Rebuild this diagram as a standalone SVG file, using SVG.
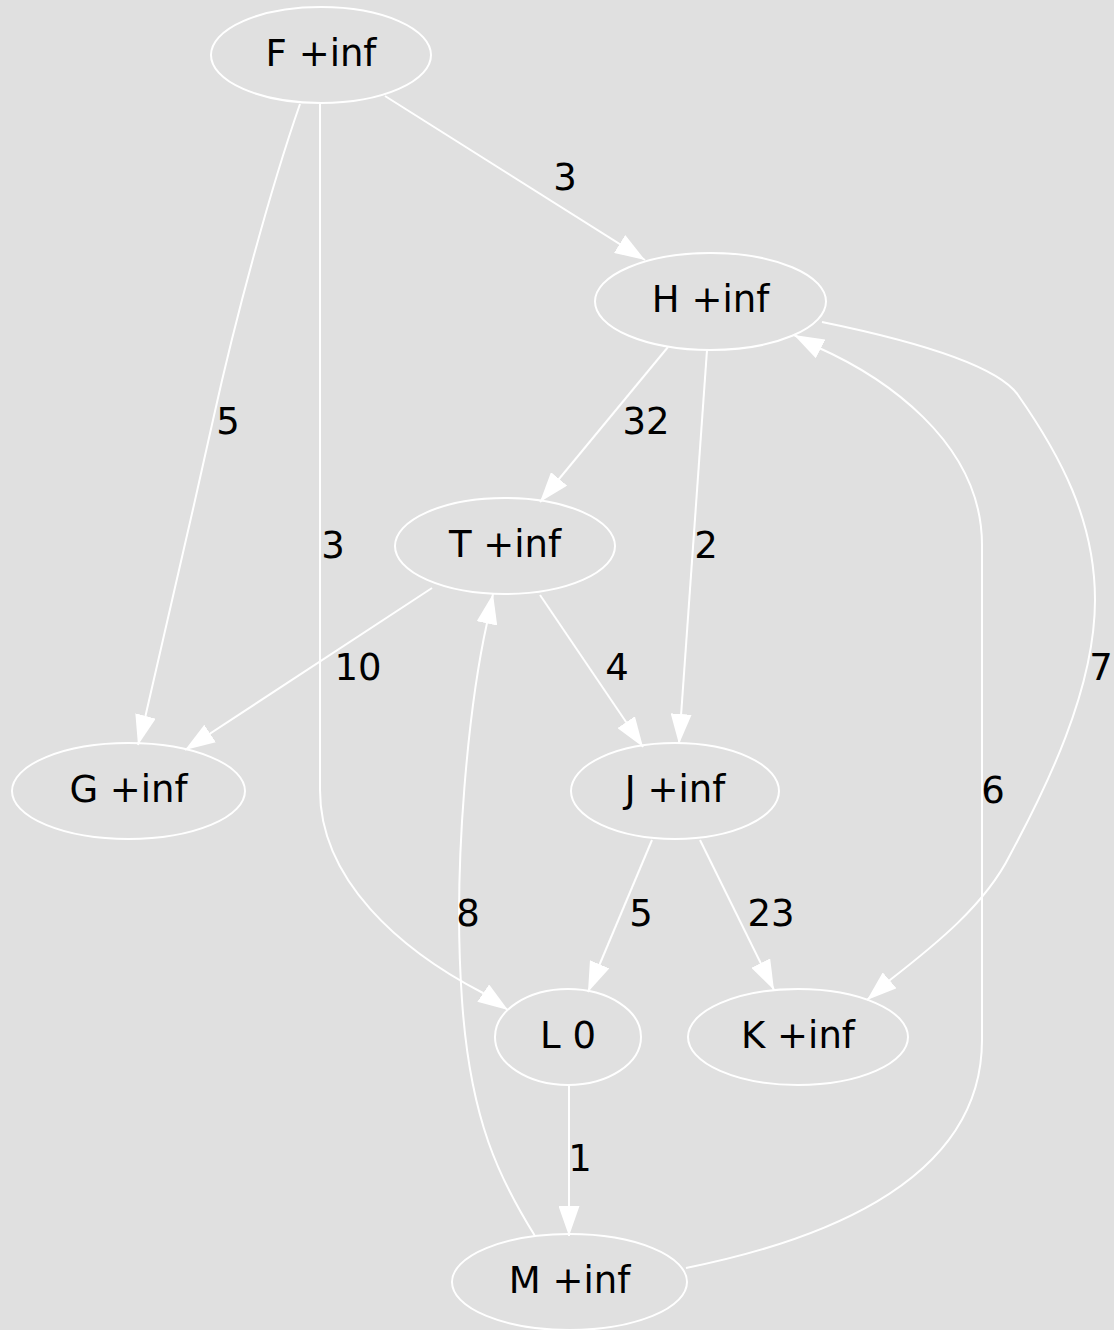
<svg xmlns="http://www.w3.org/2000/svg" width="1114" height="1330" viewBox="0 0 1114 1330">
<defs>
<style>
.node ellipse{fill:none;stroke:#ffffff;stroke-width:2}
.node text,.lbl{font-family:"DejaVu Sans",sans-serif;font-size:37px;fill:#000000;text-anchor:middle}
.edge path{fill:none;stroke:#ffffff;stroke-width:2;marker-end:url(#arr)}
</style>
<marker id="arr" markerUnits="userSpaceOnUse" viewBox="0 0 30 21" markerWidth="30" markerHeight="21" refX="30" refY="10.5" orient="auto">
<path d="M0,0 L30,10.5 L0,21 Z" fill="#ffffff"/>
</marker>
</defs>
<rect width="1114" height="1330" fill="#e0e0e0"/>
<g id="connectors" class="edge">
<path d="M385,96 L645,260"/>
<path d="M300,104 C270,190 235,320 213,420 C190,525 160,650 145,718 L138,745"/>
<path d="M320,104 L320,790 C320,880 400,950 483,993 L508,1010"/>
<path d="M668,347 L540,502"/>
<path d="M707,350 L679,744"/>
<path d="M822,322 C900,338 995,362 1018,395 C1060,455 1095,520 1095,600 C1095,690 1045,790 1010,855 C985,905 935,945 890,980 L867,1000"/>
<path d="M432,588 L185,750"/>
<path d="M540,595 L643,747"/>
<path d="M652,840 L588,992"/>
<path d="M700,840 L774,990"/>
<path d="M569,1084 L569,1236"/>
<path d="M535,1236 C500,1180 470,1120 462,1000 C452,860 470,700 487,623 L493,594"/>
<path d="M686,1268 C800,1245 982,1190 982,1040 L982,545 C982,440 880,375 817,347 L794,335"/>
</g>
<g id="edge-labels">
<text class="lbl" x="565" y="190">3</text>
<text class="lbl" x="228" y="434">5</text>
<text class="lbl" x="646" y="434">32</text>
<text class="lbl" x="333" y="558">3</text>
<text class="lbl" x="706" y="558">2</text>
<text class="lbl" x="358" y="680">10</text>
<text class="lbl" x="617" y="680">4</text>
<text class="lbl" x="1101" y="680">7</text>
<text class="lbl" x="993" y="803">6</text>
<text class="lbl" x="468" y="926">8</text>
<text class="lbl" x="641" y="926">5</text>
<text class="lbl" x="771" y="926">23</text>
<text class="lbl" x="580" y="1171">1</text>
</g>
<g id="F" class="node"><ellipse cx="321" cy="55" rx="110" ry="48"/><text x="321" y="66">F +inf</text></g>
<g id="H" class="node"><ellipse cx="710.5" cy="301.5" rx="115.5" ry="48.5"/><text x="710.5" y="312">H +inf</text></g>
<g id="T" class="node"><ellipse cx="505" cy="546" rx="110" ry="48"/><text x="505" y="557">T +inf</text></g>
<g id="G" class="node"><ellipse cx="128.5" cy="791" rx="116.5" ry="48"/><text x="128.5" y="802">G +inf</text></g>
<g id="J" class="node"><ellipse cx="675" cy="791" rx="104" ry="48"/><text x="675" y="802">J +inf</text></g>
<g id="L" class="node"><ellipse cx="568" cy="1037" rx="73" ry="48"/><text x="568" y="1048">L 0</text></g>
<g id="K" class="node"><ellipse cx="798" cy="1037" rx="110" ry="48"/><text x="798" y="1048">K +inf</text></g>
<g id="M" class="node"><ellipse cx="569.5" cy="1282" rx="117.5" ry="48"/><text x="569.5" y="1293">M +inf</text></g>
</svg>
